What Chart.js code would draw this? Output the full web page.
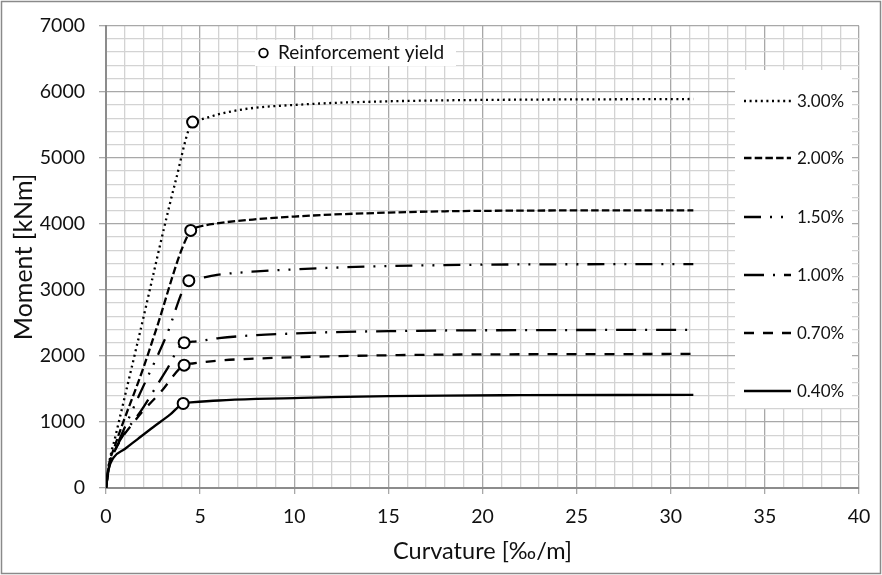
<!DOCTYPE html>
<html>
<head>
<meta charset="utf-8">
<script src="https://cdn.jsdelivr.net/npm/chart.js@4.4.1/dist/chart.umd.min.js"></script>
<style>
  html, body { margin: 0; padding: 0; background: #fff; }
  canvas { display: block; }
</style>
</head>
<body>
<canvas id="chart" width="882" height="575"></canvas>
<script>
// Moment-curvature curves, one pair of arrays per reinforcement ratio
const seriesLabels = ['3.00%', '2.00%', '1.50%', '1.00%', '0.70%', '0.40%'];

const k300 = [0, 0.15, 0.5, 1.75, 3.7, 4.6, 5, 6, 7, 8, 10, 12, 15, 18, 22, 26, 31.2];
const m300 = [0, 350, 780, 2290, 4650, 5540, 5580, 5660, 5720, 5760, 5800, 5830, 5855, 5870, 5880, 5885, 5890];

const k200 = [0, 0.15, 0.45, 2.0, 2.55, 4.5, 4.8, 6, 8, 10, 12, 15, 18, 22, 31.2];
const m200 = [0, 340, 620, 1830, 2300, 3900, 3945, 4010, 4070, 4110, 4140, 4170, 4190, 4200, 4205];

const k150 = [0, 0.15, 0.4, 1.5, 3.2, 4.4, 4.8, 6, 8, 10, 12, 15, 18, 22, 31.2];
const m150 = [0, 330, 520, 1240, 2300, 3140, 3170, 3230, 3280, 3310, 3335, 3360, 3375, 3385, 3390];

const k100 = [0, 0.15, 0.45, 2.0, 3.2, 4.15, 4.6, 6, 8, 10, 12, 15, 18, 22, 31.2];
const m100 = [0, 320, 560, 1230, 1780, 2200, 2215, 2270, 2315, 2340, 2360, 2375, 2385, 2390, 2395];

const k070 = [0, 0.15, 0.4, 1.6, 2.9, 4.15, 4.6, 6, 8, 10, 12, 15, 18, 22, 31.2];
const m070 = [0, 300, 520, 1040, 1450, 1860, 1885, 1930, 1960, 1980, 1995, 2010, 2020, 2025, 2030];

const k040 = [0, 0.15, 0.4, 1.0, 1.7, 2.5, 3.4, 4.1, 4.5, 6, 8, 10, 12, 15, 18, 22, 31.2];
const m040 = [0, 290, 460, 590, 745, 920, 1110, 1280, 1295, 1325, 1348, 1362, 1375, 1390, 1400, 1405, 1410];

// Reinforcement yield points
const yieldK = [4.6, 4.5, 4.4, 4.15, 4.15, 4.1];
const yieldM = [5540, 3900, 3140, 2200, 1860, 1280];

const xTicks = [0, 5, 10, 15, 20, 25, 30, 35, 40];
const yTicks = [0, 1000, 2000, 3000, 4000, 5000, 6000, 7000];

const curveK = [k300, k200, k150, k100, k070, k040];
const curveM = [m300, m200, m150, m100, m070, m040];
const dashes = [[2, 3.6], [7.5, 3.2], [17, 9, 2, 9, 2, 9], [20, 9, 2, 9], [10, 9], []];

const FONT = 'Lato, "Noto Sans", sans-serif';

function pts(xs, ys) {
  return xs.map((x, i) => ({ x: x, y: ys[i] }));
}

const datasets = [{
  label: 'Reinforcement yield',
  data: pts(yieldK, yieldM),
  showLine: false,
  pointRadius: 5.5,
  pointBorderWidth: 2,
  pointBackgroundColor: '#fff',
  pointBorderColor: '#000',
  order: 0
}];

seriesLabels.forEach((lab, i) => {
  datasets.push({
    label: lab,
    data: pts(curveK[i], curveM[i]),
    showLine: true,
    borderColor: '#000',
    borderWidth: 2.3,
    borderDash: dashes[i],
    borderCapStyle: 'butt',
    pointRadius: 0,
    cubicInterpolationMode: 'monotone',
    fill: false,
    order: 1
  });
});

// frame, white legend boxes and their entries
const frameAndLegend = {
  id: 'frameAndLegend',
  beforeDraw(chart) {
    const c = chart.ctx;
    c.save();
    c.fillStyle = '#fff';
    c.fillRect(0, 0, chart.width, chart.height);
    c.restore();
  },
  afterDraw(chart) {
    const c = chart.ctx;
    c.save();
    // yield legend
    c.fillStyle = '#fff';
    c.fillRect(255, 40, 201, 26);
    c.beginPath();
    c.arc(263.5, 53, 4.3, 0, Math.PI * 2);
    c.lineWidth = 1.8;
    c.strokeStyle = '#000';
    c.stroke();
    c.fillStyle = '#111';
    c.font = '19px ' + FONT;
    c.textBaseline = 'middle';
    c.fillText('Reinforcement yield', 278, 53);

    // series legend
    c.font = '17px ' + FONT;
    c.fillStyle = '#fff';
    c.fillRect(735, 70, 117, 338);
    const rowY = [101, 158, 217, 275, 333, 391];
    seriesLabels.forEach((lab, i) => {
      c.beginPath();
      c.setLineDash(dashes[i]);
      c.lineWidth = 2.3;
      c.strokeStyle = '#000';
      c.moveTo(744, rowY[i]);
      c.lineTo(791, rowY[i]);
      c.stroke();
      c.setLineDash([]);
      c.fillStyle = '#111';
      c.fillText(lab, 797, rowY[i] + 1);
    });

    // outer frame
    c.strokeStyle = '#8a8a8a';
    c.lineWidth = 1.5;
    c.strokeRect(1.5, 1.5, chart.width - 3, chart.height - 3);
    c.restore();
  }
};

new Chart(document.getElementById('chart'), {
  type: 'scatter',
  data: { datasets: datasets },
  options: {
    responsive: false,
    animation: false,
    devicePixelRatio: 1,
    layout: { padding: { top: 24, right: 23, left: 0, bottom: 0 } },
    plugins: {
      legend: { display: false },
      tooltip: { enabled: false }
    },
    scales: {
      x: {
        type: 'linear',
        min: 0,
        max: 40,
        afterFit(scale) { scale.height = 87; },
        ticks: {
          stepSize: 1,
          autoSkip: false,
          maxRotation: 0,
          padding: 11,
          color: '#111',
          font: { family: FONT, size: 19.5 },
          callback: v => (xTicks.includes(v) ? v : '')
        },
        grid: {
          color: ctx => (xTicks.includes(ctx.tick.value) ? '#a8a8a8' : '#d3d3d3'),
          tickColor: ctx => (xTicks.includes(ctx.tick.value) ? '#a8a8a8' : 'rgba(0,0,0,0)'),
          lineWidth: 1.3,
          tickLength: 6
        },
        border: { display: true, color: '#8c8c8c', width: 2 },
        title: {
          display: true,
          text: 'Curvature [‰/m]',
          color: '#111',
          font: { family: FONT, size: 23.5 },
          padding: { top: 0, bottom: 9 }
        }
      },
      y: {
        type: 'linear',
        min: 0,
        max: 7000,
        afterFit(scale) { scale.width = 106; },
        ticks: {
          stepSize: 200,
          autoSkip: false,
          maxTicksLimit: 100,
          padding: 14,
          color: '#111',
          font: { family: FONT, size: 19.5 },
          callback: v => (yTicks.includes(v) ? v : '')
        },
        grid: {
          color: ctx => (yTicks.includes(ctx.tick.value) ? '#a8a8a8' : '#d3d3d3'),
          tickColor: ctx => (yTicks.includes(ctx.tick.value) ? '#a8a8a8' : 'rgba(0,0,0,0)'),
          lineWidth: 1.3,
          tickLength: 7
        },
        border: { display: true, color: '#8c8c8c', width: 2 },
        title: {
          display: true,
          text: 'Moment [kNm]',
          color: '#111',
          font: { family: FONT, size: 25 },
          padding: { top: 9, bottom: 0 }
        }
      }
    }
  },
  plugins: [frameAndLegend]
});
</script>
</body>
</html>
